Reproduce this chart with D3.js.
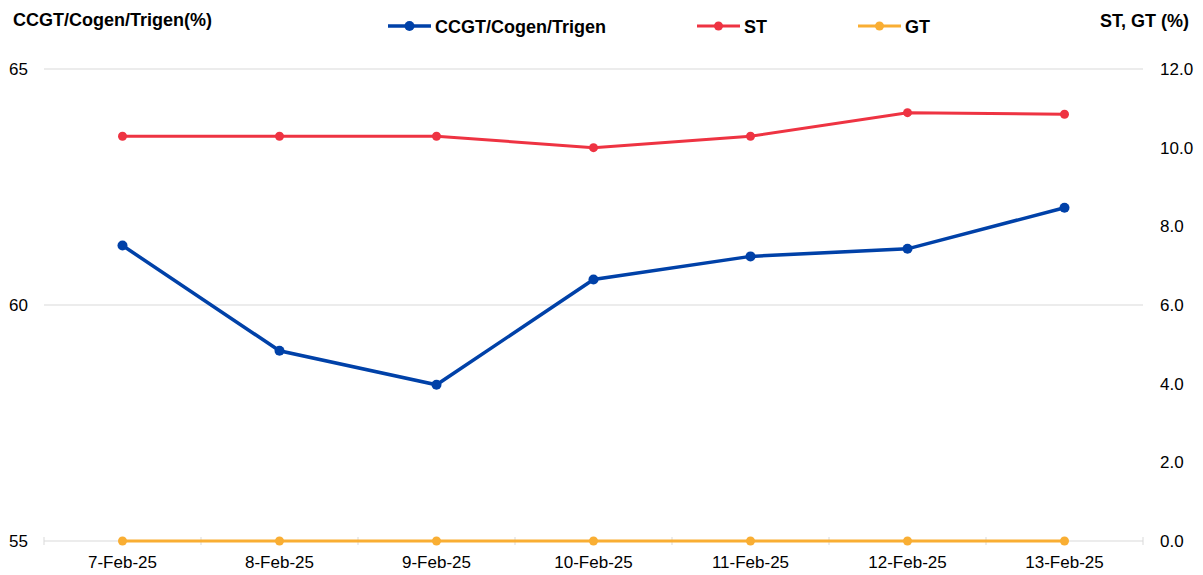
<!DOCTYPE html>
<html>
<head>
<meta charset="utf-8">
<script src="https://cdn.jsdelivr.net/npm/d3@7"></script>
<style>
  body { margin: 0; background: #fff; }
  svg text { font-family: "Liberation Sans", Arial, sans-serif; fill: #000; }
</style>
</head>
<body>
<div id="chart"></div>
<script>
// data
var categories = ["7-Feb-25", "8-Feb-25", "9-Feb-25", "10-Feb-25", "11-Feb-25", "12-Feb-25", "13-Feb-25"];
var ccgtValues = [61.26, 59.03, 58.31, 60.54, 61.03, 61.19, 62.06];
var stValues = [10.29, 10.29, 10.29, 10.0, 10.29, 10.89, 10.85];
var gtValues = [0, 0, 0, 0, 0, 0, 0];
var leftTicks = [55, 60, 65];
var rightTicks = [0, 2, 4, 6, 8, 10, 12];

var width = 1203,
    height = 575;

var svg = d3.select("#chart").append("svg")
    .attr("width", width)
    .attr("height", height);

var x = d3.scaleBand().domain(categories).range([44, 1143]);
var yL = d3.scaleLinear().domain([55, 65]).range([541, 69]);
var yR = d3.scaleLinear().domain([0, 12]).range([541, 69]);

var gridColor = "#d9d9d9";

// horizontal gridlines at left axis ticks
svg.append("g").selectAll("line")
    .data(leftTicks)
    .enter().append("line")
        .attr("x1", 44)
        .attr("x2", 1143)
        .attr("y1", function(d) { return yL(d); })
        .attr("y2", function(d) { return yL(d); })
        .style("stroke", gridColor)
        .style("stroke-width", 1);

// category tick marks on the bottom axis
var tickPos = categories.map(function(c) { return x(c); }).concat([x.range()[1]]);
svg.append("g").selectAll("line")
    .data(tickPos)
    .enter().append("line")
        .attr("x1", function(d) { return d; })
        .attr("x2", function(d) { return d; })
        .attr("y1", 537)
        .attr("y2", 545)
        .style("stroke", gridColor)
        .style("stroke-width", 1);

// left axis labels
svg.append("g").selectAll("text")
    .data(leftTicks)
    .enter().append("text")
        .attr("x", 28)
        .attr("y", function(d) { return yL(d) + 6; })
        .attr("text-anchor", "end")
        .style("font-size", "17px")
        .text(function(d) { return d; });

// right axis labels
svg.append("g").selectAll("text")
    .data(rightTicks)
    .enter().append("text")
        .attr("x", 1160)
        .attr("y", function(d) { return yR(d) + 6; })
        .style("font-size", "17px")
        .text(function(d) { return d3.format(".1f")(d); });

// category labels
svg.append("g").selectAll("text")
    .data(categories)
    .enter().append("text")
        .attr("x", function(d) { return x(d) + x.bandwidth() / 2; })
        .attr("y", 568)
        .attr("text-anchor", "middle")
        .style("font-size", "17px")
        .text(function(d) { return d; });

// axis titles
svg.append("text")
    .attr("x", 13)
    .attr("y", 26)
    .style("font-size", "18px")
    .style("font-weight", "bold")
    .text("CCGT/Cogen/Trigen(%)");

svg.append("text")
    .attr("x", 1189)
    .attr("y", 27)
    .attr("text-anchor", "end")
    .style("font-size", "18px")
    .style("font-weight", "bold")
    .text("ST, GT (%)");

// series
var series = [
    { name: "CCGT/Cogen/Trigen", values: ccgtValues, scale: yL, color: "#0041a8", w: 3.5, r: 5, lx: 388 },
    { name: "ST", values: stValues, scale: yR, color: "#ee3342", w: 3, r: 4.5, lx: 697 },
    { name: "GT", values: gtValues, scale: yR, color: "#f9ae33", w: 3, r: 4.5, lx: 858 }
];

// draw GT first so it sits under the others like the reference
series.slice().reverse().forEach(function(s) {
    var line = d3.line()
        .x(function(d, i) { return x(categories[i]) + x.bandwidth() / 2; })
        .y(function(d) { return s.scale(d); });

    var g = svg.append("g");
    g.append("path")
        .datum(s.values)
        .attr("d", line)
        .style("fill", "none")
        .style("stroke", s.color)
        .style("stroke-width", s.w);

    g.selectAll("circle")
        .data(s.values)
        .enter().append("circle")
            .attr("cx", function(d, i) { return x(categories[i]) + x.bandwidth() / 2; })
            .attr("cy", function(d) { return s.scale(d); })
            .attr("r", s.r)
            .style("fill", s.color);
});

// legend
var legend = svg.append("g");
series.forEach(function(s) {
    var item = legend.append("g").attr("transform", "translate(" + s.lx + ",26)");
    item.append("line")
        .attr("x1", 0).attr("x2", 43)
        .attr("y1", 0).attr("y2", 0)
        .style("stroke", s.color)
        .style("stroke-width", s.w);
    item.append("circle")
        .attr("cx", 21.5).attr("cy", 0)
        .attr("r", s.r)
        .style("fill", s.color);
    item.append("text")
        .attr("x", 47)
        .attr("y", 6.5)
        .style("font-size", "18px")
        .style("font-weight", "bold")
        .text(s.name);
});
</script>
</body>
</html>
